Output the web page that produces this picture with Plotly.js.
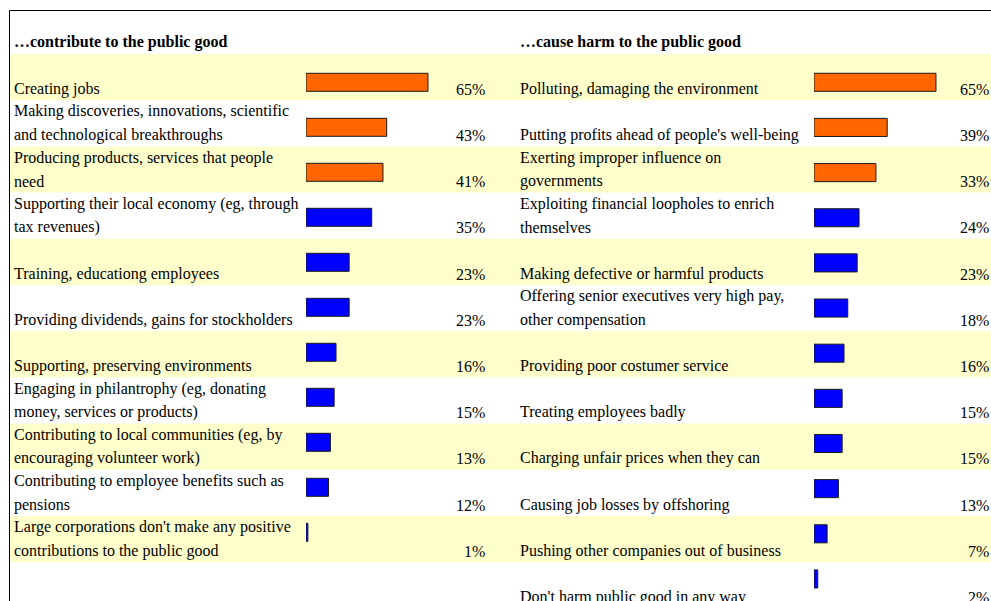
<!DOCTYPE html>
<html>
<head>
<meta charset="utf-8">
<script src="https://cdn.plot.ly/plotly-3.0.1.min.js"></script>
<style>
  html, body { margin: 0; padding: 0; background: #ffffff; }
  #chart { width: 991px; height: 601px; }
</style>
</head>
<body>
<div id="chart"></div>
<script>
// ---- data ----
const leftTitle = "…contribute to the public good";
const rightTitle = "…cause harm to the public good";

const leftLabels = [
  "Creating jobs",
  "Making discoveries, innovations, scientific\nand technological breakthroughs",
  "Producing products, services that people\nneed",
  "Supporting their local economy (eg, through\ntax revenues)",
  "Training, educationg employees",
  "Providing dividends, gains for stockholders",
  "Supporting, preserving environments",
  "Engaging in philantrophy (eg, donating\nmoney, services or products)",
  "Contributing to local communities (eg, by\nencouraging volunteer work)",
  "Contributing to employee benefits such as\npensions",
  "Large corporations don't make any positive\ncontributions to the public good"
];
const leftValues = [65, 43, 41, 35, 23, 23, 16, 15, 13, 12, 1];

const rightLabels = [
  "Polluting, damaging the environment",
  "Putting profits ahead of people's well-being",
  "Exerting improper influence on\ngovernments",
  "Exploiting financial loopholes to enrich\nthemselves",
  "Making defective or harmful products",
  "Offering senior executives very high pay,\nother compensation",
  "Providing poor costumer service",
  "Treating employees badly",
  "Charging unfair prices when they can",
  "Causing job losses by offshoring",
  "Pushing other companies out of business",
  "Don't harm public good in any way"
];
const rightValues = [65, 39, 33, 24, 23, 18, 16, 15, 15, 13, 7, 2];

const topCount = 3; // the top three items in each list are highlighted

// ---- style ----
const W = 991, H = 601;
const FONT = "Liberation Serif, 'Times New Roman', Times, serif";
const ORANGE = "#FF6600", BLUE = "#0000FF", YELLOW = "#FFFFCC";
const FS = 16, LINE_GAP = 23.4, BASE_SHIFT = 0.5;

function idx(arr) { return arr.map((_, i) => i); }
function colors(arr) { return arr.map((_, i) => i < topCount ? ORANGE : BLUE); }

const traces = [
  {
    type: "bar", orientation: "h", x: leftValues, y: idx(leftValues),
    xaxis: "x", yaxis: "y", width: 0.4,
    marker: { color: colors(leftValues), line: { color: "#1a1a1a", width: 1 } },
    hoverinfo: "skip", cliponaxis: false
  },
  {
    type: "bar", orientation: "h", x: rightValues, y: idx(rightValues),
    xaxis: "x2", yaxis: "y2", width: 0.4,
    marker: { color: colors(rightValues), line: { color: "#1a1a1a", width: 1 } },
    hoverinfo: "skip", cliponaxis: false
  },
  { type: "scatter", x: [], y: [], xaxis: "x3", yaxis: "y3", hoverinfo: "skip", showlegend: false }
];

const hidden = { visible: false, fixedrange: true, showgrid: false, zeroline: false };

// row grid axis: row i spans [i, i+1]; top of row 0 at 54px, pitch 46.2px
const ROW_TOP = 54, ROW_PITCH = 46.2;
const rowRange = [(H - ROW_TOP) / ROW_PITCH, -ROW_TOP / ROW_PITCH];
// bar axes: centre of bar 0 at 82.3px
const BAR0 = 82.3;
const leftBarRange = [(H - BAR0) / 45.0, -BAR0 / 45.0];
const rightBarRange = [(H - BAR0) / 45.15, -BAR0 / 45.15];

const layout = {
  width: W, height: H,
  margin: { l: 0, r: 0, t: 0, b: 0, pad: 0 },
  paper_bgcolor: "#ffffff", plot_bgcolor: "rgba(0,0,0,0)",
  showlegend: false,
  barmode: "overlay",
  font: { family: FONT, size: FS, color: "#000000" },
  xaxis: Object.assign({}, hidden, { domain: [306 / W, 493.7 / W], range: [0, 100], anchor: "y" }),
  yaxis: Object.assign({}, hidden, { domain: [0, 1], range: leftBarRange, anchor: "x" }),
  xaxis2: Object.assign({}, hidden, { domain: [814 / W, 982.9 / W], range: [0, 90], anchor: "y2" }),
  yaxis2: Object.assign({}, hidden, { domain: [0, 1], range: rightBarRange, anchor: "x2" }),
  xaxis3: Object.assign({}, hidden, { domain: [0, 1], range: [0, 1], anchor: "y3" }),
  yaxis3: Object.assign({}, hidden, { domain: [0, 1], range: rowRange, anchor: "x3" }),
  shapes: [],
  annotations: []
};

// alternating yellow bands
const nRows = Math.max(leftLabels.length, rightLabels.length);
for (let i = 0; i < nRows; i += 2) {
  layout.shapes.push({
    type: "rect", layer: "below", xref: "paper", yref: "y3",
    x0: 9.5 / W, x1: 1, y0: i, y1: i + 1,
    fillcolor: YELLOW, line: { width: 0 }
  });
}
// frame lines
const topY = 1 - 10.5 / H;
layout.shapes.push({ type: "line", xref: "paper", yref: "paper", x0: 9.5 / W, x1: 9.5 / W, y0: 0, y1: topY, line: { color: "#000", width: 1 } });
layout.shapes.push({ type: "line", xref: "paper", yref: "paper", x0: 9.5 / W, x1: 1, y0: topY, y1: topY, line: { color: "#000", width: 1 } });

// text is anchored at the middle of its row (so rows near the bottom edge still show)
// and shifted down half a row to sit on the row's bottom edge
function addText(text, xPx, anchor, row, lineFromBottom, bold) {
  layout.annotations.push({
    text: bold ? "<b>" + text + "</b>" : text,
    xref: "paper", x: xPx / W, xanchor: anchor,
    yref: "y3", y: row + 0.5, yanchor: "bottom",
    yshift: BASE_SHIFT - ROW_PITCH / 2 + lineFromBottom * LINE_GAP,
    showarrow: false, align: anchor,
    font: { family: FONT, size: FS, color: "#000" }
  });
}

function addColumn(labels, values, xLabel, xPct) {
  labels.forEach((lab, i) => {
    const lines = lab.split("\n");
    lines.forEach((ln, k) => addText(ln, xLabel, "left", i, lines.length - 1 - k, false));
    addText(values[i] + "%", xPct, "right", i, 0, false);
  });
}
addColumn(leftLabels, leftValues, 12, 487);
addColumn(rightLabels, rightValues, 518, 990.5);

// headers (in the row just above the first band)
addText(leftTitle, 12, "left", -1, 0, true);
addText(rightTitle, 518, "left", -1, 0, true);

Plotly.newPlot("chart", traces, layout, { displayModeBar: false, staticPlot: true });
</script>
</body>
</html>
